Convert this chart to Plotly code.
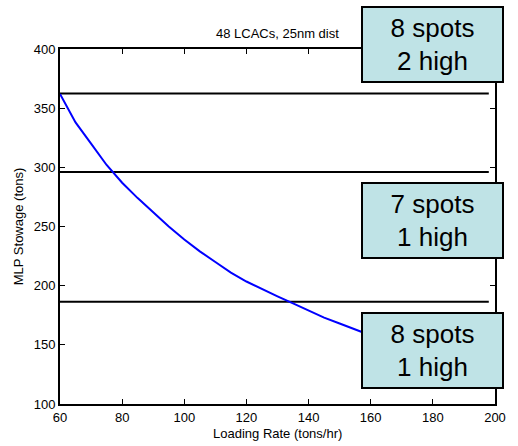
import plotly.graph_objects as go

# Data
loading_rate = [60, 65, 70, 75, 80, 85, 90, 95, 100, 105, 110, 115, 120, 125,
                130, 135, 140, 145, 150, 155, 158]
mlp_stowage = [362, 338, 320, 302, 287, 274, 262, 250, 239, 229, 220, 211, 203.5,
               197, 191, 185, 179, 173, 168, 163, 160]

thresholds = [362.5, 296, 186.5]
threshold_x = [60, 198]

box_labels = ["8 spots<br>2 high", "7 spots<br>1 high", "8 spots<br>1 high"]
box_y_paper = [1.0127, 0.5169, 0.152]

FONT = "Liberation Sans, Arial, sans-serif"

fig = go.Figure()
for t in thresholds:
    fig.add_trace(go.Scatter(x=threshold_x, y=[t, t], mode="lines",
                             line=dict(color="black", width=2), showlegend=False))
fig.add_trace(go.Scatter(x=loading_rate, y=mlp_stowage, mode="lines",
                         line=dict(color="#0000ff", width=2), showlegend=False))

for lab, yp in zip(box_labels, box_y_paper):
    fig.add_annotation(x=0.8567, y=yp, xref="paper", yref="paper", text=lab,
                       showarrow=False, font=dict(family=FONT, size=26, color="black"),
                       bgcolor="#bfe3e6", bordercolor="black", borderwidth=2, borderpad=0,
                       width=139, height=73, align="center", xanchor="center", yanchor="middle")

fig.add_annotation(x=0.5, y=1.045, xref="paper", yref="paper", text="48 LCACs, 25nm dist",
                   showarrow=False, yanchor="middle",
                   font=dict(family=FONT, size=13, color="black"))
fig.add_annotation(x=0.5, y=-0.0817, xref="paper", yref="paper", text="Loading Rate (tons/hr)",
                   showarrow=False, yanchor="middle",
                   font=dict(family=FONT, size=13, color="black"))
fig.add_annotation(x=-0.0948, y=0.5, xref="paper", yref="paper", text="MLP Stowage (tons)",
                   showarrow=False, textangle=-90, xanchor="center", yanchor="middle",
                   font=dict(family=FONT, size=13, color="black"))

axis_common = dict(showgrid=False, zeroline=False, showline=True, linecolor="black",
                   linewidth=2, mirror="ticks", ticks="inside", ticklen=5, tickcolor="black",
                   tickfont=dict(family=FONT, size=13, color="black"))
fig.update_xaxes(range=[60, 200], tickvals=[60, 80, 100, 120, 140, 160, 180, 200], **axis_common)
fig.update_yaxes(range=[100, 400], tickvals=[100, 150, 200, 250, 300, 350, 400], **axis_common)

fig.update_layout(width=518, height=446, autosize=False,
                  margin=dict(l=60, r=15, t=49, b=42),
                  plot_bgcolor="white", paper_bgcolor="white", showlegend=False)

fig.write_html("out.html",
               config={"displayModeBar": False, "responsive": False},
               post_script="document.body.style.margin='0';document.body.style.overflow='hidden';")
